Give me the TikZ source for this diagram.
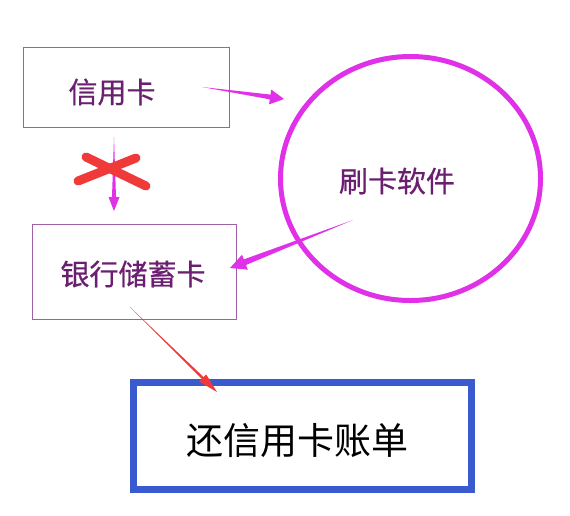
\documentclass[tikz,border=0pt]{standalone}
\usepackage{fontspec}
\newfontfamily\cjk{Noto Sans CJK SC}
\newfontfamily\cjkm[FakeBold=0.6]{Noto Sans CJK SC}
\usetikzlibrary{calc,shapes.geometric}
\definecolor{boxline}{HTML}{A060A8}
\definecolor{boxtext}{HTML}{6A1F70}
\definecolor{mag}{HTML}{E030E8}
\definecolor{xred}{HTML}{F03A3A}
\definecolor{bluebox}{HTML}{3A5BD0}
\tikzset{
  pbox/.style={draw=boxline, line width=1pt, inner sep=0pt},
  ptext/.style={text=boxtext, font=\cjkm\fontsize{29}{32}\selectfont},
  soft/.style={draw=mag, line width=5pt, ellipse, inner sep=0pt},
  bbox/.style={draw=bluebox, line width=7pt, inner sep=0pt},
  btext/.style={text=black, font=\cjk\fontsize{37}{40}\selectfont},
  cross/.style={draw=xred, line width=9pt, line cap=round},
}
% tapered arrow: #1 from, #2 to, #3 colour, #4 head length, #5 head half width, #6 shaft half width
\newcommand{\taperarrow}[6]{%
  \coordinate (#1-#2-h) at ($(#2)!#4!(#1)$);
  \fill[#3] (#1) -- ($(#1-#2-h)!#6!90:(#2)$) -- ($(#1-#2-h)!#5!90:(#2)$) -- (#2)
    -- ($(#1-#2-h)!#5!-90:(#2)$) -- ($(#1-#2-h)!#6!-90:(#2)$) -- cycle;}
\begin{document}
\begin{tikzpicture}[x=1pt,y=-1pt]
\useasboundingbox (0,0) rectangle (570,515);
\node[pbox, minimum width=206pt, minimum height=80pt] (credit) at (126,87) {};
\node[ptext] (credittxt) at (112,92) {信用卡};
\node[pbox, minimum width=204pt, minimum height=95pt] (debit) at (134,271.5) {};
\node[ptext] (debittxt) at (133,274) {银行储蓄卡};
\node[soft, minimum width=260pt, minimum height=244pt] (app) at (410.5,178.5) {};
\node[ptext] (apptxt) at (397,181) {刷卡软件};
\node[bbox, minimum width=338pt, minimum height=107pt] (repay) at (302,436) {};
\node[btext] (repaytxt) at (297,441) {还信用卡账单};
% arrow endpoints
\coordinate (a1s) at (202,87);
\coordinate (a1e) at (284,99);
\coordinate (a2s) at (114,137);
\coordinate (a2e) at (114,211);
\coordinate (a3s) at (353,220);
\coordinate (a3e) at (230,268);
\coordinate (a4s) at (130,307);
\coordinate (a4e) at (217,392);
\taperarrow{a1s}{a1e}{mag}{14pt}{7.5pt}{2.4pt}
\taperarrow{a2s}{a2e}{mag}{14pt}{5.5pt}{2pt}
\taperarrow{a3s}{a3e}{mag}{16pt}{8pt}{3pt}
\taperarrow{a4s}{a4e}{xred}{20pt}{5pt}{1.3pt}
% red cross
\coordinate (x1a) at (86,157);
\coordinate (x1b) at (146,186);
\coordinate (x2a) at (78,181);
\coordinate (x2b) at (136,158);
\draw[cross] (x1a) -- (x1b);
\draw[cross] (x2a) -- (x2b);
\end{tikzpicture}
\end{document}
